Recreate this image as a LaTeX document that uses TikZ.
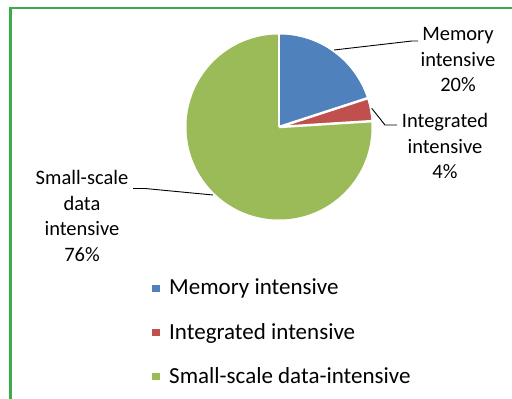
\documentclass[tikz,border=0pt]{standalone}
\usepackage{fontspec}
\setmainfont{Carlito}
\definecolor{memblue}{RGB}{79,129,189}
\definecolor{intred}{RGB}{192,80,77}
\definecolor{smallgreen}{RGB}{155,187,89}
\definecolor{framegreen}{RGB}{60,172,72}
\tikzset{
  slice/.style={draw=white, line width=2.5pt, line join=round},
  leader/.style={draw=black, line width=0.9pt},
  callout/.style={align=center, inner sep=0pt, font=\fontsize{20.5}{25.5}\selectfont},
  legtext/.style={anchor=base west, inner sep=0pt, font=\fontsize{23}{27}\selectfont},
  legkey/.style={minimum width=8pt, minimum height=7pt, inner sep=0pt, draw=none}
}
\begin{document}
\begin{tikzpicture}[x=1pt,y=1pt]
\useasboundingbox (0,0) rectangle (512,399);
\clip (0,0) rectangle (512,399);
\fill[white] (0,0) rectangle (512,399);
% frame (cut at right and bottom)
\draw[framegreen, line width=2.6pt] (10.5,-20) -- (10.5,391) -- (540,391);
% pie
\coordinate (c) at (279,272);
\def\R{92.5}
\fill[smallgreen] (c) -- ++(3.6:\R) arc[start angle=3.6, end angle=-270, radius=\R] -- cycle;
\fill[memblue] (c) -- ++(90:\R) arc[start angle=90, end angle=18, radius=\R] -- cycle;
\fill[intred] (c) -- ++(18:\R) arc[start angle=18, end angle=3.6, radius=\R] -- cycle;
\draw[slice] (c) -- ++(90:\R+2);
\draw[slice] (c) -- ++(18:\R+2);
\draw[slice] (c) -- ++(3.6:\R+2);
% leaders
\coordinate (m1) at (334,349);
\coordinate (m2) at (412,358);
\coordinate (m3) at (418,358);
\coordinate (r1) at (371.7,290.7);
\coordinate (r2) at (385,274);
\coordinate (r3) at (397,274);
\coordinate (g1) at (213,204);
\coordinate (g2) at (145,210.5);
\coordinate (g3) at (133,210.5);
\draw[leader] (m1) -- (m2) -- (m3);
\draw[leader] (r1) -- (r2) -- (r3);
\draw[leader] (g1) -- (g2) -- (g3);
% callouts
\node[callout] (lmem) at (458,339) {Memory\\intensive\\20\%};
\node[callout] (lint) at (445,253) {Integrated\\intensive\\4\%};
\node[callout] (lsmall) at (82,183) {Small-scale\\data\\intensive\\76\%};
% legend
\node[legkey, fill=memblue] (k1) at (156,110.5) {};
\node[legkey, fill=intred] (k2) at (156,66) {};
\node[legkey, fill=smallgreen] (k3) at (156,22) {};
\node[legtext] (t1) at (169,104) {Memory intensive};
\node[legtext] (t2) at (169,59.5) {Integrated intensive};
\node[legtext] (t3) at (169,15) {Small-scale data-intensive};
\end{tikzpicture}
\end{document}
